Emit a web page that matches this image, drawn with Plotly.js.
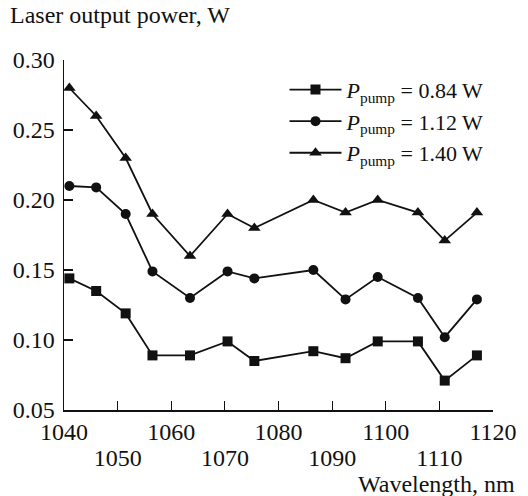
<!DOCTYPE html>
<html>
<head>
<meta charset="utf-8">
<script src="https://cdn.plot.ly/plotly-3.0.1.min.js"></script>
<style>html,body{margin:0;padding:0;background:#fff;}#chart{width:528px;height:496px;}</style>
</head>
<body>
<div id="chart"></div>
<script>
const wavelength = [1041, 1046, 1051.5, 1056.5, 1063.5, 1070.5, 1075.5, 1086.5, 1092.5, 1098.5, 1106, 1111, 1117];
const power084 = [0.144, 0.135, 0.119, 0.089, 0.089, 0.099, 0.085, 0.092, 0.087, 0.099, 0.099, 0.071, 0.089];
const power112 = [0.21, 0.209, 0.19, 0.149, 0.13, 0.149, 0.144, 0.150, 0.129, 0.145, 0.130, 0.102, 0.129];
const power140 = [0.28, 0.26, 0.23, 0.19, 0.16, 0.19, 0.18, 0.20, 0.191, 0.20, 0.191, 0.171, 0.191];
const seriesNames = ['<i>P</i><sub>pump</sub> = 0.84 W', '<i>P</i><sub>pump</sub> = 1.12 W', '<i>P</i><sub>pump</sub> = 1.40 W'];
const xTickVals = [1040, 1050, 1060, 1070, 1080, 1090, 1100, 1110, 1120];
const xTickTextRow1 = ['1040', '', '1060', '', '1080', '', '1100', '', '1120'];
const xTickValsRow2 = [1050, 1070, 1090, 1110];
const xTickTextRow2 = ['1050', '1070', '1090', '1110'];
const yTickVals = [0.05, 0.10, 0.15, 0.20, 0.25, 0.30];
const yTickText = ['0.05', '0.10', '0.15', '0.20', '0.25', '0.30'];

const ink = '#111';
const fam = 'Liberation Serif, Times New Roman, serif';
const font = {family: fam, size: 24, color: ink};
function tr(y, name, symbol, size, xa) {
  return {x: wavelength, y: y, name: name, type: 'scatter', mode: 'lines+markers', xaxis: xa, yaxis: 'y',
    line: {color: ink, width: 1.8}, marker: {symbol: symbol, size: size, color: ink}};
}
const data = [
  tr(power084, seriesNames[0], 'square', 10, 'x'),
  tr(power112, seriesNames[1], 'circle', 10, 'x'),
  tr(power140, seriesNames[2], 'triangle-up', 11, 'x2')
];
const layout = {
  width: 528, height: 496,
  margin: {l: 64, r: 35, t: 60, b: 86},
  paper_bgcolor: '#fff', plot_bgcolor: '#fff',
  font: font,
  showlegend: true,
  legend: {x: 0.514, y: 0.975, xanchor: 'left', yanchor: 'top', bgcolor: 'rgba(0,0,0,0)',
    font: {family: fam, size: 22, color: ink}, itemwidth: 52, tracegroupgap: 0},
  xaxis: {range: [1040, 1120], tickmode: 'array', tickvals: xTickVals, ticktext: xTickTextRow1,
    ticks: 'inside', ticklen: 9, tickwidth: 1.2, tickcolor: ink, showline: true, linecolor: ink, linewidth: 1.5,
    showgrid: false, zeroline: false, tickfont: font, fixedrange: true},
  xaxis2: {range: [1040, 1120], overlaying: 'x', anchor: 'y', side: 'bottom', tickmode: 'array',
    tickvals: xTickValsRow2, ticktext: xTickTextRow2, ticks: '', showline: false, showgrid: false,
    zeroline: false, tickfont: font, fixedrange: true, ticklabelstandoff: 31},
  yaxis: {range: [0.05, 0.30], tickmode: 'array', tickvals: yTickVals, ticktext: yTickText,
    ticks: 'inside', ticklen: 9, tickwidth: 1.2, tickcolor: ink, showline: true, linecolor: ink, linewidth: 1.5,
    showgrid: false, zeroline: false, tickfont: font, fixedrange: true, ticklabelstandoff: 3},
  annotations: [
    {text: 'Laser output power, W', xref: 'paper', yref: 'paper', x: -0.13, y: 1.0, xanchor: 'left', yanchor: 'middle', yshift: 45, showarrow: false, font: font},
    {text: 'Wavelength, nm', xref: 'paper', yref: 'paper', x: 1.057, y: 0, xanchor: 'right', yanchor: 'middle', yshift: -74, showarrow: false, font: font}
  ]
};
Plotly.newPlot('chart', data, layout, {displayModeBar: false, staticPlot: true});
</script>
</body>
</html>
